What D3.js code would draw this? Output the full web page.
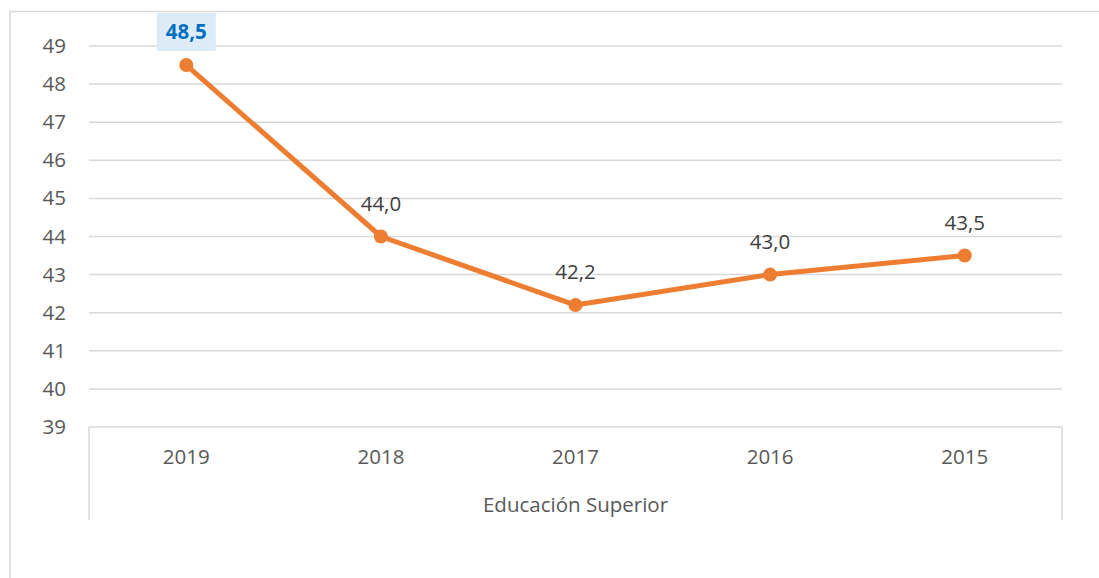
<!DOCTYPE html>
<html>
<head>
<meta charset="utf-8">
<script src="https://cdn.jsdelivr.net/npm/d3@7"></script>
<style>
  body { margin: 0; background: #fff; }
  svg { font-family: "Open Sans", sans-serif; display: block; }
</style>
</head>
<body>
<svg width="1099" height="578"></svg>
<script>
const years = ["2019", "2018", "2017", "2016", "2015"];
const values = [48.5, 44.0, 42.2, 43.0, 43.5];
const yTicks = [39, 40, 41, 42, 43, 44, 45, 46, 47, 48, 49];
const groupLabel = "Educación Superior";

const svg = d3.select("svg"),
    margin = {top: 46, right: 37, bottom: 151, left: 89},
    width = svg.attr("width") - margin.left - margin.right,
    height = svg.attr("height") - margin.top - margin.bottom;

const fontSize = "20.5px";

// Outer chart border (only top and left visible)
svg.append("path")
    .attr("d", "M10,578 V11.5 H1099")
    .attr("fill", "none")
    .attr("stroke", "#d9d9d9")
    .attr("stroke-width", 1.5);

const g = svg.append("g").attr("transform", "translate(" + margin.left + "," + margin.top + ")");

const xScale = d3.scaleBand().domain(years).range([0, width]),
    yScale = d3.scaleLinear().domain([39, 49]).range([height, 0]);

// Gridlines
g.append("g")
  .selectAll("line")
  .data(yTicks)
  .enter().append("line")
    .attr("x1", 0)
    .attr("x2", width)
    .attr("y1", function(d) { return yScale(d); })
    .attr("y2", function(d) { return yScale(d); })
    .attr("stroke", "#d9d9d9")
    .attr("stroke-width", 1.5);

// Y axis labels
const yAxis = g.append("g")
    .call(d3.axisLeft(yScale).tickValues(yTicks).tickSize(0).tickPadding(23));
yAxis.select(".domain").remove();
yAxis.selectAll("text")
    .attr("fill", "#595959")
    .style("font-size", fontSize)
    .style("font-family", "Open Sans, sans-serif");

// X axis: category labels and group label
const xAxis = g.append("g")
    .attr("transform", "translate(0," + height + ")")
    .call(d3.axisBottom(xScale).tickSize(0).tickPadding(22));
xAxis.select(".domain").remove();
xAxis.selectAll("text")
    .attr("fill", "#595959")
    .style("font-size", fontSize)
    .style("font-family", "Open Sans, sans-serif");

// Group brackets
g.append("path")
    .attr("d", "M0," + (height + 93) + " V" + height + " M" + width + "," + height + " V" + (height + 93))
    .attr("fill", "none")
    .attr("stroke", "#d9d9d9")
    .attr("stroke-width", 1.5);

g.append("text")
    .attr("x", width / 2)
    .attr("y", height + 85)
    .attr("text-anchor", "middle")
    .attr("fill", "#595959")
    .style("font-size", fontSize)
    .text(groupLabel);

// Line
const cx = function(d, i) { return xScale(years[i]) + xScale.bandwidth() / 2; };
const line = d3.line()
    .x(function(d, i) { return cx(d, i); })
    .y(function(d) { return yScale(d); });

g.append("path")
    .datum(values)
    .attr("d", line)
    .attr("fill", "none")
    .attr("stroke", "#ed7d31")
    .attr("stroke-width", 5)
    .attr("stroke-linejoin", "round");

g.selectAll(".dot")
  .data(values)
  .enter().append("circle")
    .attr("class", "dot")
    .attr("cx", cx)
    .attr("cy", function(d) { return yScale(d); })
    .attr("r", 7)
    .attr("fill", "#ed7d31");

// Data labels
const fmt = function(d) { return d.toFixed(1).replace(".", ","); };

g.append("rect")
    .attr("x", cx(values[0], 0) - 29.5)
    .attr("y", yScale(values[0]) - 52)
    .attr("width", 59)
    .attr("height", 38)
    .attr("fill", "#ddebf7");

g.selectAll(".lbl")
  .data(values)
  .enter().append("text")
    .attr("class", "lbl")
    .attr("x", cx)
    .attr("y", function(d) { return yScale(d) - 33; })
    .attr("dy", "0.35em")
    .attr("text-anchor", "middle")
    .attr("fill", function(d, i) { return i === 0 ? "#0070c0" : "#404040"; })
    .style("font-weight", function(d, i) { return i === 0 ? "bold" : "normal"; })
    .style("font-size", fontSize)
    .text(fmt);
</script>
</body>
</html>
